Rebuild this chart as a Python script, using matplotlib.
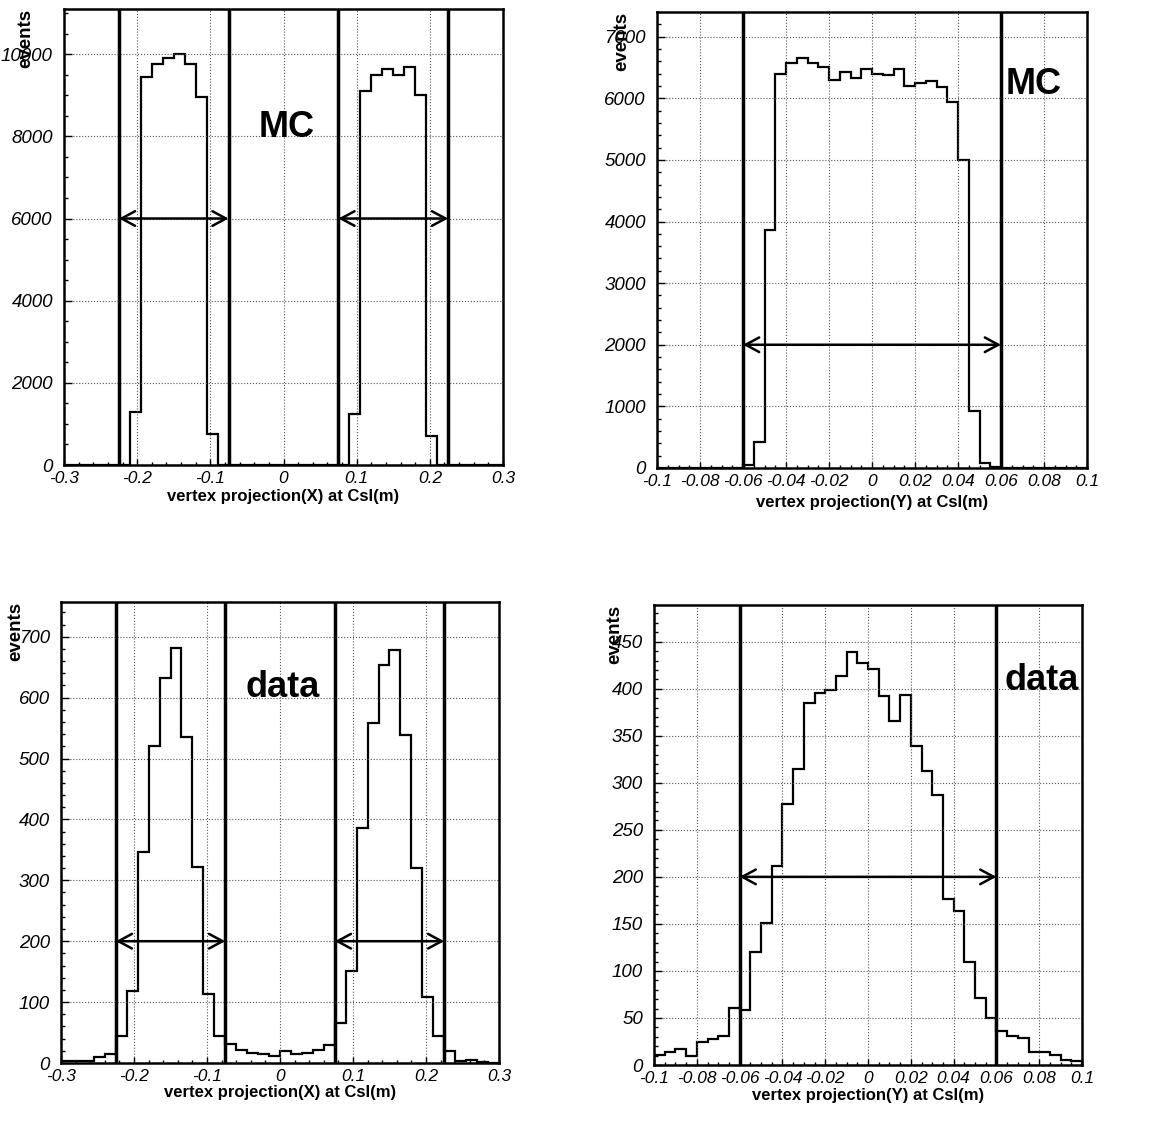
import matplotlib
matplotlib.use('Agg')
import matplotlib.pyplot as plt
from matplotlib.ticker import MultipleLocator, FuncFormatter
import numpy as np

plt.rcParams['font.family'] = ['Liberation Sans', 'DejaVu Sans']
plt.rcParams['font.style'] = 'italic'

# vertex projection at CsI, 40 bins each
# X: -0.3 .. 0.3 m (bin 0.015), Y: -0.1 .. 0.1 m (bin 0.005)
mc_x = [0, 0, 0, 0, 0, 0,
        1300, 9450, 9750, 9900, 10000, 9750, 8950, 750,
        0, 0, 0, 0, 0, 0, 0, 0, 0, 0, 0, 0,
        1250, 9100, 9500, 9650, 9500, 9700, 9000, 700,
        0, 0, 0, 0, 0, 0]

mc_y = [0, 0, 0, 0, 0, 0, 0, 0,
        50, 420, 3870, 6400, 6580, 6650, 6580, 6500, 6300, 6420, 6330, 6480,
        6400, 6380, 6470, 6200, 6250, 6280, 6180, 5940, 5000, 920, 80, 20,
        0, 0, 0, 0, 0, 0, 0, 0]

data_x = [3, 3, 3, 10, 15,
          44, 119, 347, 521, 633, 682, 536, 322, 114, 44,
          32, 22, 17, 15, 12, 19, 15, 17, 22, 29,
          65, 151, 386, 559, 653, 678, 538, 321, 108, 45,
          19, 4, 5, 2, 0]

data_y = [11, 14, 17, 10, 24, 28, 31, 61,
          58, 120, 151, 212, 277, 315, 385, 395, 399, 414, 439, 427,
          421, 392, 366, 393, 339, 313, 287, 176, 164, 110, 71, 50,
          36, 31, 29, 14, 14, 11, 5, 4]

# fiducial cuts; arrows mark the width between each pair
cuts_x = [-0.225, -0.075, 0.075, 0.225]
cuts_y = [-0.06, 0.06]

W, H = 1153, 1125
fig = plt.figure(figsize=(W / 100, H / 100), dpi=100)


def tickFmt(v, pos):
    return '%g' % (round(v, 6) + 0.0)


def drawPanel(box, xrange, counts, cuts, arrow_y, ymax, xmaj, xmin, ymaj, ymin,
              tag, tagpos, xlabel, lab_y, ev_x):
    left, top, right, bottom = box
    ax = fig.add_axes([left / W, 1 - bottom / H, (right - left) / W, (bottom - top) / H])
    edges = np.linspace(xrange[0], xrange[1], len(counts) + 1)
    ax.stairs(counts, edges, baseline=0, color='black', linewidth=1.6)

    for c in cuts:
        ax.axvline(c, color='black', linewidth=2.5)
    for a, b in zip(cuts[0::2], cuts[1::2]):
        ax.annotate('', xy=(b, arrow_y), xytext=(a, arrow_y),
                    arrowprops=dict(arrowstyle='<->,head_length=0.65,head_width=0.35',
                                    mutation_scale=15, linewidth=1.8, color='black',
                                    shrinkA=0, shrinkB=0))

    ax.set_xlim(xrange)
    ax.set_ylim(0, ymax)
    ax.xaxis.set_major_locator(MultipleLocator(xmaj))
    ax.xaxis.set_minor_locator(MultipleLocator(xmin))
    ax.yaxis.set_major_locator(MultipleLocator(ymaj))
    ax.yaxis.set_minor_locator(MultipleLocator(ymin))
    ax.xaxis.set_major_formatter(FuncFormatter(tickFmt))
    ax.yaxis.set_major_formatter(FuncFormatter(tickFmt))
    ax.tick_params(which='both', direction='in', width=1.0)
    ax.tick_params(axis='x', which='major', length=4.5, pad=4, labelsize=12.5)
    ax.tick_params(axis='x', which='minor', length=2.5)
    ax.tick_params(axis='y', which='major', length=6, pad=8, labelsize=13.5)
    ax.tick_params(axis='y', which='minor', length=3)
    ax.grid(True, which='major', linestyle=':', linewidth=0.8, color='#555555')
    for s in ax.spines.values():
        s.set_linewidth(1.8)

    ax.text(tagpos[0], tagpos[1], tag, transform=ax.transAxes, ha='center',
            va='baseline', fontsize=26, fontweight='bold', fontstyle='normal')
    ax.text(0.5, lab_y, xlabel, transform=ax.transAxes, ha='center', va='baseline',
            fontsize=12, fontweight='bold', fontstyle='normal')
    ax.text(ev_x, 1.0, 'events', transform=ax.transAxes, rotation=90, ha='center',
            va='top', fontsize=13.5, fontweight='bold', fontstyle='normal')
    return ax


lab_x = 'vertex projection(X) at CsI(m)'
lab_y = 'vertex projection(Y) at CsI(m)'

drawPanel((64, 9, 503, 465), (-0.3, 0.3), mc_x, cuts_x, 6000, 11100,
          0.1, 0.02, 2000, 500, 'MC', (0.506, 0.719), lab_x, -0.080, -0.087)
drawPanel((657, 12, 1087, 468), (-0.1, 0.1), mc_y, cuts_y, 2000, 7400,
          0.02, 0.005, 1000, 200, 'MC', (0.877, 0.820), lab_y, -0.086, -0.081)
drawPanel((61, 602, 499, 1063), (-0.3, 0.3), data_x, cuts_x, 200, 757,
          0.1, 0.02, 100, 20, 'data', (0.505, 0.794), lab_x, -0.074, -0.103)
drawPanel((654, 605, 1082, 1065), (-0.1, 0.1), data_y, cuts_y, 200, 489,
          0.02, 0.005, 50, 10, 'data', (0.906, 0.815), lab_y, -0.076, -0.091)

fig.savefig('out.png', dpi=100)
